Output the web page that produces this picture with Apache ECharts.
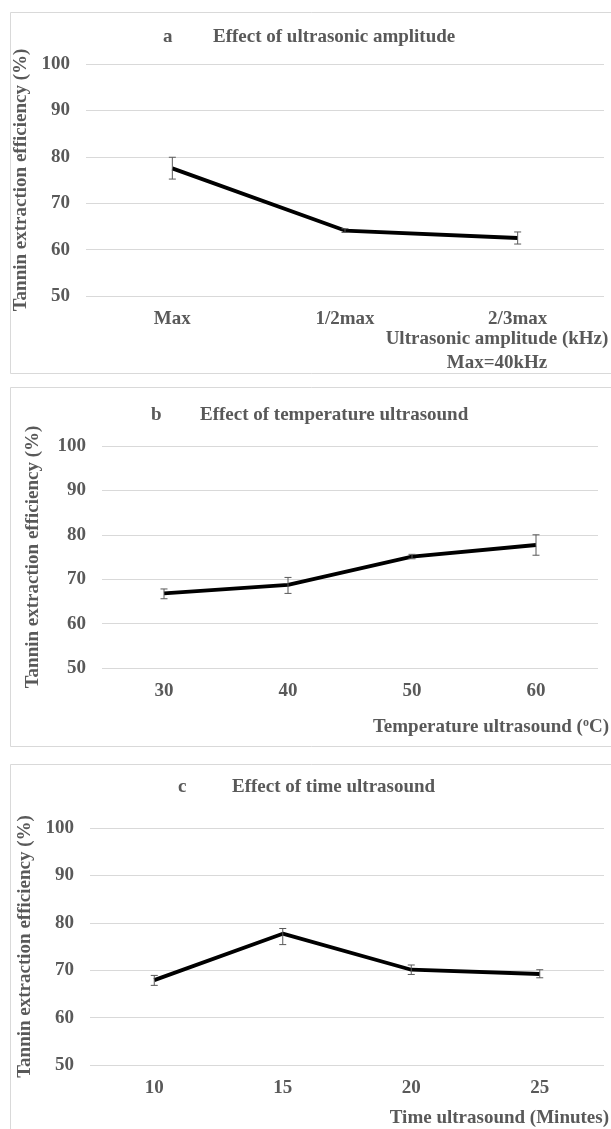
<!DOCTYPE html>
<html>
<head>
<meta charset="utf-8">
<script src="https://cdn.jsdelivr.net/npm/echarts@6/dist/echarts.min.js"></script>
<style>
html,body{margin:0;padding:0;background:#fff;}
#chart{width:611px;height:1129px;}
</style>
</head>
<body>
<div id="chart"></div>
<script>
// ---- Data ----
const yTicks = [50, 60, 70, 80, 90, 100];

const catsA = ['Max', '1/2max', '2/3max'];
const valsA = [77.5, 64.1, 62.5];
const lowA  = [75.2, 63.7, 61.2];
const highA = [79.9, 64.5, 63.8];

const catsB = ['30', '40', '50', '60'];
const valsB = [66.8, 68.7, 75.1, 77.7];
const lowB  = [65.6, 66.8, 74.6, 75.4];
const highB = [67.8, 70.4, 75.6, 80.0];

const catsC = ['10', '15', '20', '25'];
const valsC = [67.9, 77.7, 70.1, 69.2];
const lowC  = [66.8, 75.4, 69.1, 68.4];
const highC = [68.9, 78.8, 71.1, 70.1];

const titlesLetter = ['a', 'b', 'c'];
const titlesText = ['Effect of ultrasonic amplitude', 'Effect of temperature ultrasound', 'Effect of time ultrasound'];
const yName = 'Tannin extraction efficiency (%)';

// ---- Styles ----
const FONT = "'Liberation Serif', 'Times New Roman', serif";
const GRAY = '#595959';
const FS = 19;

const chart = echarts.init(document.getElementById('chart'));

const grids = [
  {left: 86, right: 7, top: 64, height: 232},
  {left: 102, right: 13, top: 446, height: 222},
  {left: 90, right: 7, top: 828, height: 237}
];
const cats = [catsA, catsB, catsC];
const vals = [valsA, valsB, valsC];
const lows = [lowA, lowB, lowC];
const highs = [highA, highB, highC];
const nameGaps = [44, 59, 50];

function errRender(params, api) {
  const lo = api.coord([api.value(0), api.value(1)]);
  const hi = api.coord([api.value(0), api.value(2)]);
  const w = 3.5;
  const st = {stroke: GRAY, lineWidth: 1};
  return {
    type: 'group',
    children: [
      {type: 'line', shape: {x1: hi[0], y1: hi[1], x2: lo[0], y2: lo[1]}, style: st},
      {type: 'line', shape: {x1: hi[0] - w, y1: hi[1], x2: hi[0] + w, y2: hi[1]}, style: st},
      {type: 'line', shape: {x1: lo[0] - w, y1: lo[1], x2: lo[0] + w, y2: lo[1]}, style: st}
    ]
  };
}

const xAxes = [], yAxes = [], series = [];
for (let i = 0; i < 3; i++) {
  xAxes.push({
    type: 'category', gridIndex: i, data: cats[i], boundaryGap: true,
    axisLine: {show: false}, axisTick: {show: false},
    axisLabel: {color: GRAY, fontFamily: FONT, fontWeight: 'bold', fontSize: FS, margin: 14}
  });
  yAxes.push({
    type: 'value', gridIndex: i, min: yTicks[0], max: yTicks[yTicks.length - 1], interval: 10,
    axisLine: {show: false}, axisTick: {show: false},
    splitLine: {lineStyle: {color: '#d9d9d9', width: 1}},
    axisLabel: {color: GRAY, fontFamily: FONT, fontWeight: 'bold', fontSize: FS, margin: 16},
    name: yName, nameLocation: 'middle', nameGap: nameGaps[i], nameRotate: 90,
    nameTextStyle: {color: GRAY, fontFamily: FONT, fontWeight: 'bold', fontSize: FS}
  });
  series.push({
    type: 'line', xAxisIndex: i, yAxisIndex: i, data: vals[i],
    symbol: 'none', lineStyle: {color: '#000', width: 3.8}, z: 2, animation: false
  });
  series.push({
    type: 'custom', xAxisIndex: i, yAxisIndex: i,
    data: cats[i].map((c, k) => [k, lows[i][k], highs[i][k]]),
    encode: {x: 0, y: [1, 2]}, renderItem: errRender, z: 3, animation: false
  });
}

const txt = (x, y, text, align, extra) => ({
  type: 'text', x: x, y: y,
  style: Object.assign({text: text, fill: GRAY, font: 'bold ' + FS + 'px ' + FONT, textAlign: align || 'left', textVerticalAlign: 'middle'}, extra || {})
});

const graphics = [
  {type: 'rect', shape: {x: 10.5, y: 12.5, width: 610, height: 361}, style: {fill: 'none', stroke: '#d9d9d9', lineWidth: 1}, silent: true},
  {type: 'rect', shape: {x: 10.5, y: 387.5, width: 610, height: 359}, style: {fill: 'none', stroke: '#d9d9d9', lineWidth: 1}, silent: true},
  {type: 'rect', shape: {x: 10.5, y: 764.5, width: 610, height: 380}, style: {fill: 'none', stroke: '#d9d9d9', lineWidth: 1}, silent: true},
  txt(163, 37, titlesLetter[0]), txt(213, 37, titlesText[0]),
  txt(151, 415, titlesLetter[1]), txt(200, 415, titlesText[1]),
  txt(178, 787, titlesLetter[2]), txt(232, 787, titlesText[2]),
  txt(497, 339, 'Ultrasonic amplitude (kHz)', 'center'),
  txt(497, 363, 'Max=40kHz', 'center'),
  {
    type: 'text', x: 609, y: 727,
    style: {
      text: '{n|Temperature ultrasound (}{s|o}{n|C)}', textAlign: 'right', textVerticalAlign: 'middle',
      rich: {
        n: {fill: GRAY, fontFamily: FONT, fontWeight: 'bold', fontSize: FS},
        s: {fill: GRAY, fontFamily: FONT, fontWeight: 'bold', fontSize: 12, verticalAlign: 'top', padding: [0, 0, 8, 0]}
      }
    }
  },
  txt(609, 1118, 'Time ultrasound (Minutes)', 'right')
];

chart.setOption({
  animation: false,
  backgroundColor: '#fff',
  grid: grids,
  xAxis: xAxes,
  yAxis: yAxes,
  series: series,
  graphic: graphics
});
</script>
</body>
</html>
